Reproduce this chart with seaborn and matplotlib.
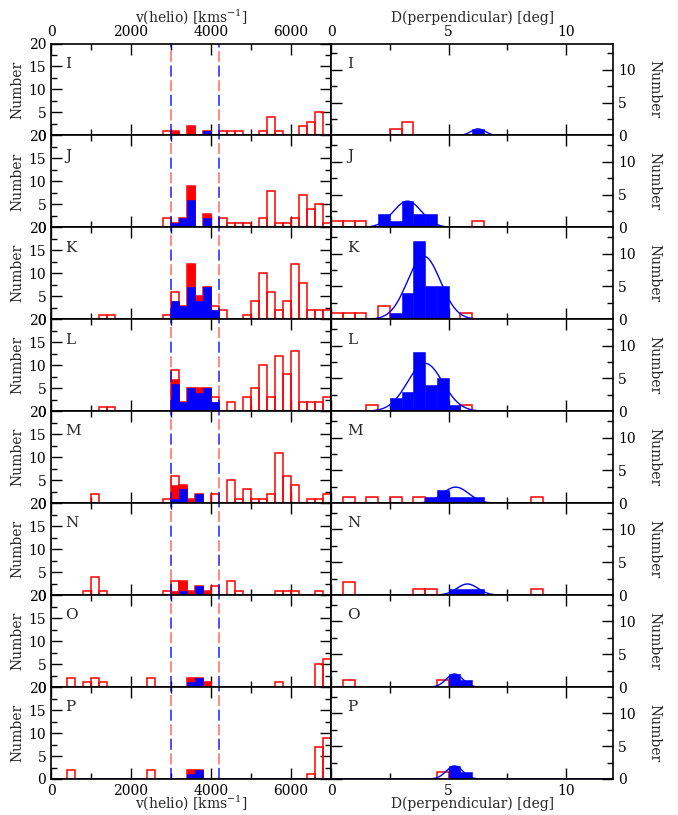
import numpy as np
import matplotlib
matplotlib.use("Agg")
import matplotlib.pyplot as plt
import seaborn as sns
from matplotlib.ticker import MultipleLocator

# ---------------- data ----------------
panels = ["I", "J", "K", "L", "M", "N", "O", "P"]

# v(helio) histograms, 200 km/s bins, key = bin start (km/s)
v_all_I = {2800: 1, 3000: 1, 3400: 2, 3800: 1, 4200: 1, 4400: 1, 4600: 1, 5200: 1, 5400: 4, 5600: 1,
           6200: 2, 6400: 3, 6600: 5}
v_red_I = {3000: 1, 3400: 2, 3800: 1}
v_blue_I = {3800: 1}

v_all_J = {2800: 2, 3000: 1, 3200: 2, 3400: 9, 3800: 3, 4200: 2, 4400: 1, 4600: 1, 4800: 1, 5200: 2,
           5400: 8, 5600: 1, 5800: 1, 6000: 2, 6200: 7, 6400: 4, 6600: 5, 6800: 1}
v_red_J = {3000: 1, 3200: 2, 3400: 9, 3800: 3}
v_blue_J = {3000: 1, 3200: 2, 3400: 6, 3800: 2}

v_all_K = {1200: 1, 1400: 1, 2800: 1, 3000: 6, 3200: 3, 3400: 12, 3600: 5, 3800: 7, 4000: 3, 4200: 2,
           4800: 1, 5000: 4, 5200: 10, 5400: 6, 5600: 2, 5800: 4, 6000: 12, 6200: 8, 6400: 2, 6600: 2,
           6800: 2}
v_red_K = {3000: 4, 3200: 3, 3400: 12, 3600: 5, 3800: 7, 4000: 2}
v_blue_K = {3000: 4, 3200: 3, 3400: 7, 3600: 4, 3800: 7, 4000: 2}

v_all_L = {1200: 1, 1400: 1, 3000: 9, 3200: 2, 3400: 5, 3600: 5, 3800: 5, 4000: 3, 4400: 2, 4800: 3,
           5000: 5, 5200: 10, 5400: 3, 5600: 12, 5800: 8, 6000: 13, 6200: 2, 6400: 2, 6600: 2, 6800: 3}
v_red_L = {3000: 7, 3200: 2, 3400: 5, 3600: 5, 3800: 5, 4000: 2}
v_blue_L = {3000: 6, 3200: 2, 3400: 5, 3600: 4, 3800: 5, 4000: 2}

v_all_M = {1000: 2, 2800: 1, 3000: 6, 3200: 4, 3400: 1, 3600: 2, 4000: 2, 4400: 5, 4600: 1, 4800: 3,
           5000: 1, 5200: 1, 5400: 2, 5600: 11, 5800: 6, 6000: 4, 6400: 1, 6600: 1, 6800: 2}
v_red_M = {3000: 4, 3200: 4, 3400: 1, 3600: 2}
v_blue_M = {3000: 1, 3200: 3, 3600: 2}

v_all_N = {800: 1, 1000: 4, 1200: 1, 2800: 1, 3000: 3, 3200: 3, 3400: 1, 3600: 2, 3800: 1, 4000: 2,
           4400: 3, 4600: 1, 5600: 1, 5800: 1, 6000: 1, 6600: 1}
v_red_N = {3000: 1, 3200: 3, 3400: 1, 3600: 2, 3800: 1}
v_blue_N = {3200: 1, 3600: 2}

v_all_O = {400: 2, 800: 1, 1000: 2, 1200: 1, 2400: 2, 3400: 2, 3600: 2, 3800: 1, 5600: 1, 6600: 5,
           6800: 6}
v_red_O = {3400: 2, 3600: 2, 3800: 1}
v_blue_O = {3400: 1, 3600: 2}

v_all_P = {400: 2, 2400: 2, 3400: 2, 3600: 2, 6400: 1, 6600: 7, 6800: 9}
v_red_P = {3400: 2, 3600: 2}
v_blue_P = {3400: 1, 3600: 2}

# D(perpendicular) histograms, 0.5 deg bins, key = bin start (deg)
d_red_I = {2.5: 1, 3.0: 2}
d_blue_I = {6.0: 1}
d_red_J = {0.0: 1, 0.5: 1, 1.0: 1, 6.0: 1}
d_blue_J = {2.0: 2, 2.5: 1, 3.0: 4, 3.5: 2, 4.0: 2}
d_red_K = {0.0: 1, 0.5: 1, 1.0: 1, 2.0: 2, 5.5: 1}
d_blue_K = {2.5: 1, 3.0: 4, 3.5: 12, 4.0: 5, 4.5: 5}
d_red_L = {1.5: 1, 5.5: 1}
d_blue_L = {2.5: 2, 3.0: 3, 3.5: 9, 4.0: 4, 4.5: 5, 5.0: 1}
d_red_M = {0.5: 1, 1.5: 1, 2.5: 1, 3.5: 1, 8.5: 1}
d_blue_M = {4.0: 1, 4.5: 2, 5.0: 1, 5.5: 1, 6.0: 1}
d_red_N = {0.5: 2, 3.5: 1, 4.0: 1, 8.5: 1}
d_blue_N = {5.0: 1, 5.5: 1, 6.0: 1}
d_red_O = {0.5: 1, 4.5: 1}
d_blue_O = {5.0: 2, 5.5: 1}
d_red_P = {4.5: 1}
d_blue_P = {5.0: 2, 5.5: 1}

# Gaussian fits (centre, sigma, peak) for each panel
gauss_mu = [6.25, 3.25, 3.95, 4.0, 5.3, 5.8, 5.25, 5.25]
gauss_sigma = [0.3, 0.6, 0.7, 0.75, 0.55, 0.45, 0.35, 0.35]
gauss_peak = [1.0, 4.0, 9.6, 7.3, 2.45, 1.7, 2.0, 2.0]

v_cuts = [3000, 4200]

v_all = [v_all_I, v_all_J, v_all_K, v_all_L, v_all_M, v_all_N, v_all_O, v_all_P]
v_red = [v_red_I, v_red_J, v_red_K, v_red_L, v_red_M, v_red_N, v_red_O, v_red_P]
v_blue = [v_blue_I, v_blue_J, v_blue_K, v_blue_L, v_blue_M, v_blue_N, v_blue_O, v_blue_P]
d_red = [d_red_I, d_red_J, d_red_K, d_red_L, d_red_M, d_red_N, d_red_O, d_red_P]
d_blue = [d_blue_I, d_blue_J, d_blue_K, d_blue_L, d_blue_M, d_blue_N, d_blue_O, d_blue_P]

# ---------------- style ----------------
sns.set_style("ticks")
plt.rcParams["font.family"] = ["DejaVu Serif"]
plt.rcParams["mathtext.fontset"] = "dejavuserif"
plt.rcParams["lines.scale_dashes"] = False
plt.rcParams["axes.linewidth"] = 1.2
plt.rcParams["axes.edgecolor"] = "black"
FS = 10

RED = "#ff0000"
BLUE = "#0000ff"

v_edges = [float(e) for e in np.arange(0, 7001, 200)]
d_edges = [float(e) for e in np.arange(0, 12.001, 0.5)]


def draw_hist(ax, counts, edges, width, fill, color, z):
    if not counts:
        return
    keys = sorted(counts)
    x = [k + width / 2 for k in keys]
    w = [counts[k] for k in keys]
    if fill:
        sns.histplot(x=x, weights=w, bins=edges, element="bars", fill=True, color=color, alpha=1,
                     edgecolor=color, linewidth=0.4, ax=ax, zorder=z)
    else:
        sns.histplot(x=x, weights=w, bins=edges, element="bars", fill=False, color=color, alpha=1,
                     linewidth=1.1, ax=ax, zorder=z)


fig = plt.figure(figsize=(6.78, 8.15), dpi=100)
W, H = 678, 815
top_px, bot_px = 43.5, 779.0
row_h = (bot_px - top_px) / 8
lx0, lx1 = 51, 331
rx0, rx1 = 331, 613.3

d_grid = np.linspace(0, 12, 800)

for i, name in enumerate(panels):
    y0 = 1 - (top_px + (i + 1) * row_h) / H
    h = row_h / H
    axl = fig.add_axes([lx0 / W, y0, (lx1 - lx0) / W, h])
    axr = fig.add_axes([rx0 / W, y0, (rx1 - rx0) / W, h])

    # ---- left: velocity ----
    draw_hist(axl, v_all[i], v_edges, 200, False, RED, 2)
    draw_hist(axl, v_red[i], v_edges, 200, True, RED, 3)
    draw_hist(axl, v_blue[i], v_edges, 200, True, BLUE, 3.5)
    axl.axhline(0, color="#2a1a8a", lw=1.3, zorder=4)
    for xv in v_cuts:
        axl.axvline(xv, color=BLUE, lw=1.3, ls=(0, (8, 13)), alpha=0.75, zorder=5)
        axl.axvline(xv, color=RED, lw=1.3, ls=(10.5, (8, 13)), alpha=0.5, zorder=5)
    axl.set_xlim(0, 7000)
    axl.set_ylim(0, 20)
    axl.xaxis.set_major_locator(MultipleLocator(2000))
    axl.xaxis.set_minor_locator(MultipleLocator(1000))
    axl.yaxis.set_major_locator(MultipleLocator(5))
    axl.yaxis.set_minor_locator(MultipleLocator(2.5))
    axl.tick_params(which="both", direction="in", top=True, bottom=True, left=True, right=True,
                    labelsize=FS, width=1.0, colors="black")
    axl.tick_params(which="major", length=8)
    axl.tick_params(which="minor", length=4)
    axl.tick_params(labelbottom=(i == 7), labeltop=(i == 0))
    axl.set_ylabel("Number", fontsize=FS, labelpad=3)
    axl.set_xlabel("")
    axl.text(0.05, 0.78, name, transform=axl.transAxes, ha="left", va="center", fontsize=11)

    # ---- right: D(perpendicular) ----
    draw_hist(axr, d_red[i], d_edges, 0.5, False, RED, 2)
    draw_hist(axr, d_blue[i], d_edges, 0.5, True, BLUE, 3)
    curve = gauss_peak[i] * np.exp(-0.5 * ((d_grid - gauss_mu[i]) / gauss_sigma[i]) ** 2)
    sns.lineplot(x=d_grid, y=curve, color=BLUE, lw=1.0, ax=axr, zorder=4)
    axr.axhline(0, color="#101050", lw=1.0, zorder=4.5)
    axr.set_xlim(0, 12)
    axr.set_ylim(0, 14)
    axr.xaxis.set_major_locator(MultipleLocator(5))
    axr.xaxis.set_minor_locator(MultipleLocator(2.5))
    axr.yaxis.set_major_locator(MultipleLocator(5))
    axr.yaxis.set_minor_locator(MultipleLocator(2.5))
    axr.tick_params(which="both", direction="in", top=True, bottom=True, left=True, right=True,
                    labelsize=FS, width=1.0, colors="black")
    axr.tick_params(which="major", length=8)
    axr.tick_params(which="minor", length=4)
    axr.tick_params(labelleft=False, labelright=True, labelbottom=(i == 7), labeltop=(i == 0))
    axr.yaxis.set_label_position("right")
    axr.set_ylabel("Number", fontsize=FS, rotation=270, va="bottom", labelpad=8)
    axr.set_xlabel("")
    axr.text(0.056, 0.78, name, transform=axr.transAxes, ha="left", va="center", fontsize=11)

    for ax in (axl, axr):
        for sp in ax.spines.values():
            sp.set_linewidth(1.2)
            sp.set_zorder(6)

    if i == 0:
        for ax, lab in ((axl, "v(helio) [kms$^{-1}$]"), (axr, "D(perpendicular) [deg]")):
            ax.xaxis.set_label_position("top")
            ax.set_xlabel(lab, fontsize=FS, va="baseline")
            ax.xaxis.set_label_coords(0.5, 1 + (top_px - 22) / row_h)
    if i == 7:
        for ax, lab in ((axl, "v(helio) [kms$^{-1}$]"), (axr, "D(perpendicular) [deg]")):
            ax.set_xlabel(lab, fontsize=FS, va="baseline")
            ax.xaxis.set_label_coords(0.5, -(808 - bot_px) / row_h)

fig.savefig("out.png", dpi=100)
